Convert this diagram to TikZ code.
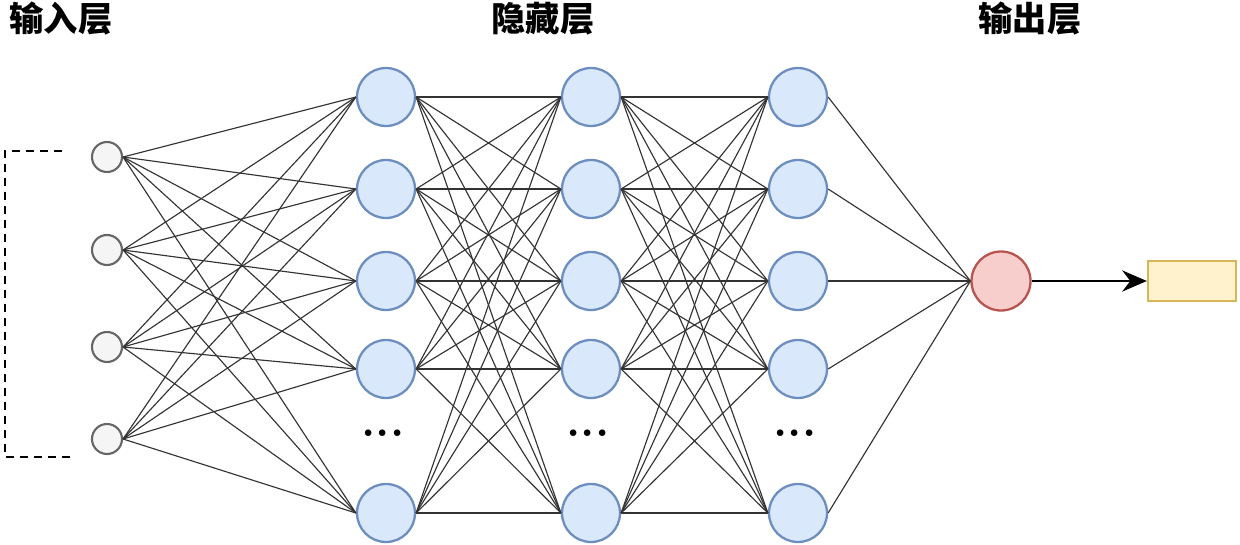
\documentclass[tikz,border=0pt]{standalone}
\usepackage{fontspec}
\newfontfamily\cjk{Noto Sans CJK SC}
\usetikzlibrary{arrows.meta}
\definecolor{inpfill}{HTML}{F5F5F5}
\definecolor{inpline}{HTML}{666666}
\definecolor{hidfill}{HTML}{DAE8FC}
\definecolor{hidline}{HTML}{6C8EBF}
\definecolor{outfill}{HTML}{F8CECC}
\definecolor{outline}{HTML}{B85450}
\definecolor{resfill}{HTML}{FFF2CC}
\definecolor{resline}{HTML}{D6B656}
\tikzset{
  inp/.style={circle,draw=inpline,fill=inpfill,line width=1.2pt,minimum size=0.6cm,inner sep=0pt},
  hid/.style={circle,draw=hidline,fill=hidfill,line width=1.3pt,minimum size=1.16cm,inner sep=0pt},
  outn/.style={circle,draw=outline,fill=outfill,line width=1.3pt,minimum size=1.18cm,inner sep=0pt},
  resbox/.style={draw=resline,fill=resfill,line width=1.3pt,minimum width=1.76cm,minimum height=0.8cm,inner sep=0pt},
  conn/.style={draw=black!80,line width=0.65pt},
  layertitle/.style={font=\cjk\bfseries\fontsize{19.5}{22}\selectfont},
  moredots/.style={font=\bfseries\fontsize{26}{26}\selectfont,inner sep=0pt}
}
\begin{document}
\begin{tikzpicture}[x=0.02cm,y=-0.02cm,>=stealth]
	\useasboundingbox (0,0) rectangle (1240,544);
	% titles
	\node[layertitle] (t1) at (61,19) {输入层};
	\node[layertitle] (t2) at (543,19) {隐藏层};
	\node[layertitle] (t3) at (1030,19) {输出层};
	% input layer
	\foreach \i/\y in {1/157,2/250,3/347,4/439}
		\node[inp] (in\i) at (107,\y) {};
	% hidden layers
	\foreach \l/\x in {1/386,2/591,3/798}{
		\foreach \i/\y in {1/97,2/189,3/281,4/369,5/513}
			\node[hid] (h\l-\i) at (\x,\y) {};
		\node[moredots] (d\l) at (\x-3,433) {...};
	}
	% output
	\node[outn] (out) at (1001,281) {};
	\node[resbox] (res) at (1192,281) {};
	% connections
	\foreach \i in {1,...,4}
		\foreach \j in {1,...,5}
			\draw[conn] (in\i.east) -- (h1-\j.west);
	\foreach \i in {1,...,5}
		\foreach \j in {1,...,5}{
			\draw[conn] (h1-\i.east) -- (h2-\j.west);
			\draw[conn] (h2-\i.east) -- (h3-\j.west);
		}
	\foreach \i in {1,...,5}
		\draw[conn] (h3-\i.east) -- (out.west);
	\draw[-{Stealth[length=14pt,width=12pt]},line width=1.5pt] (out.east) -- (res.west);
	% dashed bracket
	\coordinate (bt) at (62,151);
	\coordinate (bb) at (75,457);
	\draw[line width=1.3pt,dash pattern=on 0.16cm off 0.12cm] (bt) -- (5,151) -- (5,457) -- (bb);
\end{tikzpicture}
\end{document}
